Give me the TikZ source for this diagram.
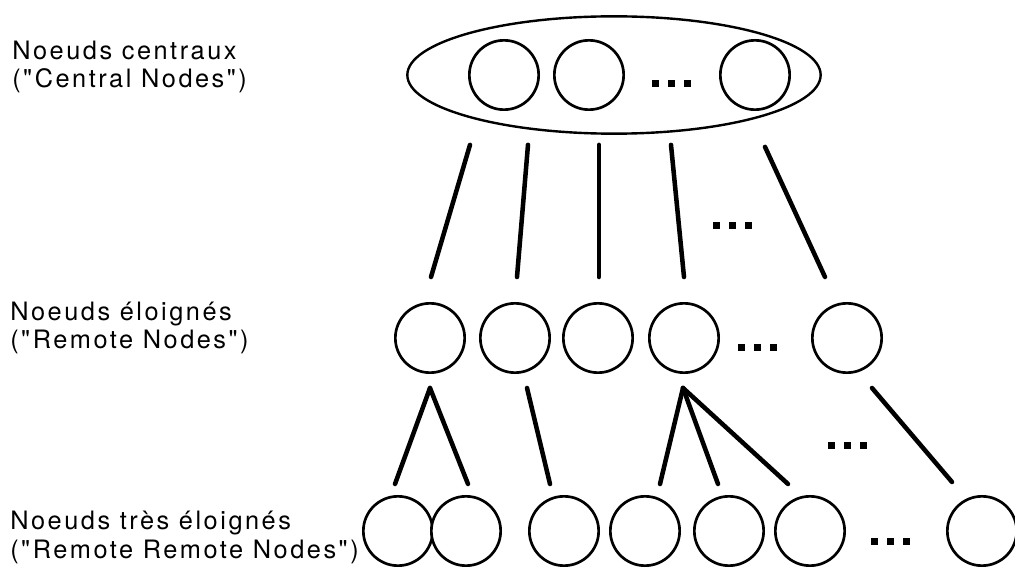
\documentclass[tikz,border=0pt]{standalone}
\usepackage{fontspec}
\setmainfont{TeX Gyre Heros}
\newfontfamily\lblfont[LetterSpace=10,Ligatures=TeXOff]{TeX Gyre Heros}
\usetikzlibrary{calc,shapes.geometric}
\tikzset{
  nd/.style={circle,draw,line width=2pt,fill=white,minimum size=52pt,inner sep=0pt},
  link/.style={line width=3.4pt,line cap=round},
  lbl/.style={align=left,anchor=base west,inner sep=0pt,
    font=\lblfont\fontsize{19}{21.5}\selectfont}
}
\newcommand{\dotrow}[1]{\foreach \k in {-16,0,16} \fill ($(#1)+(\k,0)+(-3.5,-3.5)$) rectangle +(7,7);}

\begin{document}
\begin{tikzpicture}[x=0.75pt,y=-0.75pt]
\useasboundingbox (0,0) rectangle (1015,574);

% labels (anchored on the second line)
\node[lbl] (L1) at (12,88) {Noeuds centraux\\("Central Nodes")};
\node[lbl] (L2) at (10,349) {Noeuds éloignés\\("Remote Nodes")};
\node[lbl] (L3) at (10,558) {Noeuds très éloignés\\("Remote Remote Nodes")};

% central nodes
\node[ellipse,draw,line width=1.8pt,minimum width=310pt,minimum height=88pt,inner sep=0pt] (core) at (614,75) {};
\node[nd] (C1) at (504,75) {};
\node[nd] (C2) at (589,75) {};
\node[nd] (C3) at (755,75) {};
\coordinate (D1) at (671,84);
\dotrow{D1}

% remote nodes
\node[nd] (R1) at (430,338) {};
\node[nd] (R2) at (515,338) {};
\node[nd] (R3) at (598,338) {};
\node[nd] (R4) at (684,338) {};
\node[nd] (R5) at (847,338) {};
\coordinate (D2) at (757,348);
\dotrow{D2}

% remote remote nodes
\node[nd] (RR1) at (398,531) {};
\node[nd] (RR2) at (466,531) {};
\node[nd] (RR3) at (564,531) {};
\node[nd] (RR4) at (645,531) {};
\node[nd] (RR5) at (729,531) {};
\node[nd] (RR6) at (810,531) {};
\node[nd] (RR7) at (982,531) {};
\coordinate (D3) at (890,541);
\dotrow{D3}

% links central -> remote
\draw[link] ($(core.south)+(-144,10)$) -- ($(R1.north)+(1,-25)$);
\draw[link] ($(core.south)+(-86,10)$) -- ($(R2.north)+(2,-25)$);
\draw[link] ($(core.south)+(-15,10)$) -- ($(R3.north)+(1,-25)$);
\draw[link] ($(core.south)+(57,10)$) -- ($(R4.north)+(0,-25)$);
\draw[link] ($(core.south)+(151,12)$) -- ($(R5.north)+(-22,-25)$);
\coordinate (D4) at (732,226);
\dotrow{D4}

% links remote -> remote remote
\draw[link] ($(R1.south)+(0,14)$) coordinate (A1) -- ($(RR1.north)+(-3,-11)$);
\draw[link] (A1) -- ($(RR2.north)+(2,-11)$);
\draw[link] ($(R2.south)+(12,14)$) -- ($(RR3.north)+(-14,-11)$);
\draw[link] ($(R4.south)+(-1,14)$) coordinate (A4) -- ($(RR4.north)+(15,-11)$);
\draw[link] (A4) -- ($(RR5.north)+(-11,-11)$);
\draw[link] (A4) -- ($(RR6.north)+(-22,-11)$);
\draw[link] ($(R5.south)+(25,14)$) -- ($(RR7.north)+(-30,-13)$);
\coordinate (D5) at (847,445);
\dotrow{D5}
\end{tikzpicture}
\end{document}
